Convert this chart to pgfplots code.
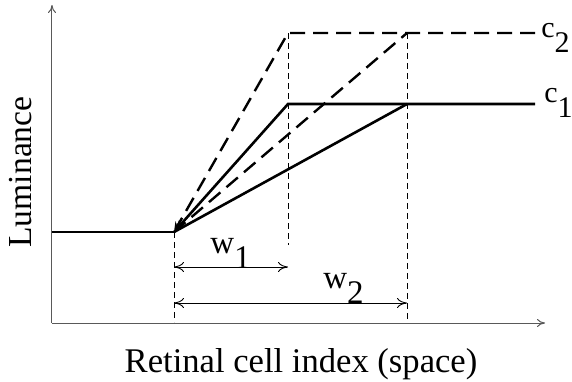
\documentclass[border=0pt]{standalone}
\usepackage{fontspec}
\setmainfont{Liberation Serif}
\usepackage{pgfplots}
\pgfplotsset{compat=1.18}
\usetikzlibrary{arrows.meta}

\begin{document}
\begin{tikzpicture}
\begin{axis}[
    x=0.5pt, y=0.5pt,
    xmin=0, xmax=493,
    ymin=0, ymax=318,
    axis lines=left,
    axis line style={black!65, line width=0.5pt, -{To[length=4pt,width=4pt]}},
    xtick=\empty, ytick=\empty,
    clip=false,
    xlabel={Retinal cell index (space)},
    ylabel={Luminance},
    every axis x label/.style={at={(axis cs:249,-49)}, anchor=base, font=\fontsize{17.3}{20}\selectfont},
    every axis y label/.style={at={(axis cs:-31,151)}, anchor=center, rotate=90, font=\fontsize{16.8}{20}\selectfont},
]
% baseline before the step
\addplot[black, line width=1.3pt] coordinates {(0,91) (122,91)};
% c1 (solid), widths w1 and w2
\addplot[black, line width=1.3pt, -{Stealth[length=6pt,width=4pt]}] coordinates {(483,219) (236,219) (122,91)};
\addplot[black, line width=1.3pt] coordinates {(355,219) (122,91)};
% c2 (dashed)
\addplot[black, line width=1.2pt, dash pattern=on 7.5pt off 4pt, -{Stealth[length=5pt,width=4pt]}] coordinates {(483,290) (236,290) (122,91)};
\addplot[black, line width=1.2pt, dash pattern=on 7.5pt off 4pt] coordinates {(122,91) (355,290)};
% thin dashed guides
\addplot[black, line width=0.45pt, dash pattern=on 3pt off 2pt] coordinates {(236,290) (236,78)};
\addplot[black, line width=0.45pt, dash pattern=on 3pt off 2pt] coordinates {(355,290) (355,1)};
\addplot[black, line width=0.45pt, dash pattern=on 3pt off 2pt] coordinates {(122,91) (122,1)};
% width arrows
\addplot[black, line width=0.45pt, {To[length=5pt,width=5pt]}-{To[length=5pt,width=5pt]}] coordinates {(122,56) (236,56)};
\addplot[black, line width=0.45pt, {To[length=5pt,width=5pt]}-{To[length=5pt,width=5pt]}] coordinates {(122,20) (355,20)};
\node[font=\fontsize{16.5}{20}\selectfont, anchor=base west, inner sep=0pt] at (axis cs:158,70) {w\raisebox{-1ex}{1}};
\node[font=\fontsize{16.5}{20}\selectfont, anchor=base west, inner sep=0pt] at (axis cs:271,35) {w\raisebox{-1ex}{2}};
\node[font=\fontsize{15}{18}\selectfont, anchor=base west, inner sep=0pt] at (axis cs:489,286) {c\raisebox{-1.1ex}{2}};
\node[font=\fontsize{15}{18}\selectfont, anchor=base west, inner sep=0pt] at (axis cs:492,221) {c\raisebox{-1.1ex}{1}};
\coordinate (bl) at (axis cs:-52,-58);
\coordinate (tr) at (axis cs:520,323);
\end{axis}
\pgfresetboundingbox
\path (bl) rectangle (tr);
\end{tikzpicture}
\end{document}
